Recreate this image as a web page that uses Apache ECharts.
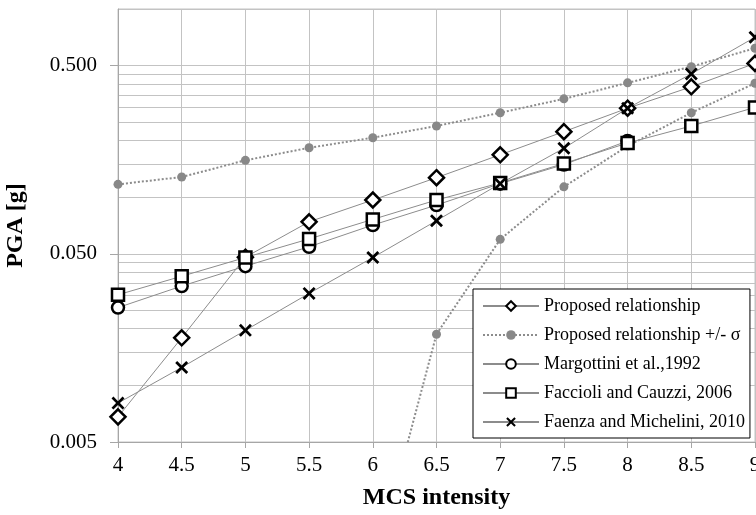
<!DOCTYPE html>
<html>
<head>
<meta charset="utf-8">
<script src="https://cdn.jsdelivr.net/npm/echarts@6/dist/echarts.min.js"></script>
<style>
  html, body { margin: 0; padding: 0; background: #fff; }
  #chart { width: 756px; height: 515px; }
</style>
</head>
<body>
<div id="chart"></div>
<script>
// MCS intensity classes
const mcs = [4, 4.5, 5, 5.5, 6, 6.5, 7, 7.5, 8, 8.5, 9];

// PGA [g]
const proposed   = [0.0068, 0.0179, 0.048, 0.074, 0.0966, 0.127, 0.168, 0.223, 0.297, 0.386, 0.514];
const sigmaUpper = [0.117, 0.128, 0.157, 0.183, 0.207, 0.239, 0.281, 0.333, 0.405, 0.494, 0.619];
const sigmaLower = [null, null, null, null, 0.001, 0.0187, 0.0597, 0.1135, 0.187, 0.281, 0.403];
const margottini = [0.0259, 0.0337, 0.043, 0.0545, 0.0711, 0.0908, 0.118, 0.149, 0.199, null, null];
const faccioli   = [0.0303, 0.038, 0.0478, 0.06, 0.0762, 0.0966, 0.119, 0.151, 0.194, 0.239, 0.30];
const faenza     = [0.00805, 0.01245, 0.0196, 0.0308, 0.0478, 0.075, 0.118, 0.182, 0.297, 0.452, 0.708];

// y axis: labelled ticks and the excel-style gridlines
const yMajor = [0.005, 0.05, 0.5];
const yGrid = [
  0.005, 0.01, 0.015, 0.02, 0.025, 0.03, 0.035, 0.04, 0.045,
  0.05, 0.1, 0.15, 0.2, 0.25, 0.3, 0.35, 0.4, 0.45,
  0.5, 1
];

const names = [
  'Proposed relationship',
  'Proposed relationship +/- \u03c3',
  'Margottini et al.,1992',
  'Faccioli and Cauzzi, 2006',
  'Faenza and Michelini, 2010'
];

const font = 'Liberation Serif';
const gridGray = '#c3c3c3';
const axisGray = '#a6a6a6';
const lineGray = '#8c8c8c';
const crossPath = 'path://M0,3L3,0L10,7L17,0L20,3L13,10L20,17L17,20L10,13L3,20L0,17L7,10Z';

function pairs(vals) {
  return mcs.map((x, i) => [x, vals[i]]);
}

function markerSeries(name, vals, symbol, size) {
  const cross = symbol === crossPath;
  return {
    name: name,
    type: 'line',
    data: pairs(vals),
    symbol: symbol,
    symbolSize: size,
    lineStyle: { color: lineGray, width: 1 },
    itemStyle: cross
      ? { color: '#000', borderWidth: 0 }
      : { color: '#fff', borderColor: '#000', borderWidth: 2.5 },
    emphasis: { disabled: true }
  };
}

function sigmaSeries(vals) {
  return {
    name: names[1],
    type: 'line',
    data: pairs(vals),
    symbol: 'circle',
    symbolSize: 9,
    lineStyle: { color: lineGray, width: 2, type: 'dotted' },
    itemStyle: { color: '#888' },
    emphasis: { disabled: true }
  };
}

const chart = echarts.init(document.getElementById('chart'));

const option = {
  animation: false,
  grid: {
    left: 118, right: 1, top: 9, bottom: 73,
    outerBoundsMode: 'none',
    show: true, borderColor: gridGray, borderWidth: 1
  },
  legend: {
    orient: 'vertical',
    left: 473,
    top: 289,
    data: names,
    itemWidth: 56,
    itemHeight: 12,
    itemGap: 9,
    padding: [7, 5, 6, 9],
    borderColor: '#000',
    borderWidth: 1,
    backgroundColor: '#fff',
    selectedMode: false,
    textStyle: { fontFamily: font, fontSize: 18, color: '#000', lineHeight: 20 }
  },
  xAxis: {
    type: 'value',
    min: 4,
    max: 9,
    interval: 0.5,
    name: 'MCS intensity',
    nameLocation: 'middle',
    nameGap: 44,
    nameTextStyle: { fontFamily: font, fontWeight: 'bold', fontSize: 24, color: '#000' },
    axisLine: { lineStyle: { color: axisGray } },
    axisTick: { show: true, length: 6, lineStyle: { color: axisGray } },
    axisLabel: { fontFamily: font, fontSize: 21, color: '#000', margin: 13 },
    splitLine: { show: true, lineStyle: { color: gridGray } }
  },
  yAxis: [
    {
      // gridlines only
      type: 'log',
      min: 0.005,
      max: 1,
      position: 'left',
      axisLine: { show: false },
      axisTick: { show: false, customValues: yGrid },
      axisLabel: { show: false },
      splitLine: { show: true, lineStyle: { color: gridGray } }
    },
    {
      type: 'log',
      min: 0.005,
      max: 1,
      position: 'left',
      name: 'PGA [g]',
      nameLocation: 'middle',
      nameRotate: 90,
      nameGap: 90,
      nameTextStyle: { fontFamily: font, fontWeight: 'bold', fontSize: 24, color: '#000' },
      axisLine: { show: true, lineStyle: { color: axisGray } },
      axisTick: { show: true, length: 8, customValues: yMajor, lineStyle: { color: axisGray } },
      axisLabel: {
        customValues: yMajor,
        fontFamily: font, fontSize: 21, color: '#000', margin: 21,
        formatter: v => v.toFixed(3)
      },
      splitLine: { show: false }
    }
  ],
  series: [
    markerSeries(names[0], proposed, 'diamond', 15),
    sigmaSeries(sigmaUpper),
    sigmaSeries(sigmaLower),
    markerSeries(names[2], margottini, 'circle', 12),
    markerSeries(names[3], faccioli, 'rect', 12),
    markerSeries(names[4], faenza, crossPath, 13)
  ]
};

chart.setOption(option);
</script>
</body>
</html>
